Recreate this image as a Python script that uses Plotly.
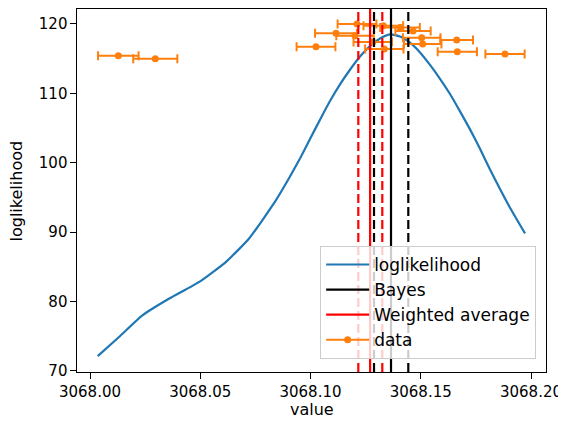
import plotly.graph_objects as go

# ---- data ----
curve_x = [3068.00349, 3068.01329, 3068.02390, 3068.03596, 3068.04957, 3068.06168,
           3068.07224, 3068.08435, 3068.09070, 3068.09524, 3068.09977, 3068.10431,
           3068.10884, 3068.11338, 3068.11791, 3068.12245, 3068.12698, 3068.13152,
           3068.13605, 3068.14059, 3068.14512, 3068.14966, 3068.15420, 3068.15873,
           3068.16327, 3068.16780, 3068.17234, 3068.17687, 3068.18141, 3068.18594,
           3068.19048, 3068.19728]
curve_y = [72.1, 74.9, 78.0, 80.4, 82.8, 85.7,
           89.1, 94.6, 98.0, 100.6, 103.4, 106.2,
           108.9, 111.3, 113.4, 115.3, 116.8, 117.9,
           118.5, 118.2, 117.3, 115.9, 114.1, 112.1,
           109.9, 107.4, 104.8, 102.0, 99.0, 96.2,
           93.5, 89.8]

data_x = [3068.01284, 3068.02961, 3068.10249, 3068.11156, 3068.12109, 3068.12020,
          3068.12821, 3068.13302, 3068.13347, 3068.14059, 3068.14649, 3068.15043,
          3068.15088, 3068.16630, 3068.16658, 3068.18821]
data_y = [115.43, 115.0, 116.7, 118.65, 120.0, 118.3,
          117.4, 119.75, 116.4, 119.5, 119.0, 118.0,
          117.1, 117.7, 116.0, 115.67]
data_err = [0.0092, 0.0100, 0.0088, 0.0095, 0.0088, 0.0085,
            0.0087, 0.0090, 0.0087, 0.0090, 0.0080, 0.0085,
            0.0085, 0.0074, 0.0089, 0.0089]

bayes_mean = 3068.13651
bayes_bounds = [3068.12880, 3068.14435]
wavg_mean = 3068.12703
wavg_bounds = [3068.12168, 3068.13256]

xtick_vals = [3068.00, 3068.05, 3068.10, 3068.15, 3068.20]
xtick_text = ["3068.00", "3068.05", "3068.10", "3068.15", "3068.20"]
ytick_vals = [70, 80, 90, 100, 110, 120]
ytick_text = ["70", "80", "90", "100", "110", "120"]

BLUE = "#1f77b4"
ORANGE = "#ff7f0e"
FONT = "DejaVu Sans"
FS = 15

fig = go.Figure()
fig.add_trace(go.Scatter(x=curve_x, y=curve_y, mode="lines", name="loglikelihood",
                         line=dict(color=BLUE, width=2.2, shape="spline", smoothing=0.5)))
# legend proxies for the vertical lines
fig.add_trace(go.Scatter(x=[None], y=[None], mode="lines", name="Bayes",
                         line=dict(color="black", width=2.2)))
fig.add_trace(go.Scatter(x=[None], y=[None], mode="lines", name="Weighted average",
                         line=dict(color="red", width=2.2)))
fig.add_trace(go.Scatter(x=data_x, y=data_y, mode="markers", name="data", showlegend=False,
                         marker=dict(color=ORANGE, size=7),
                         error_x=dict(type="data", array=data_err, color=ORANGE,
                                      thickness=2, width=4.5)))
fig.add_trace(go.Scatter(x=[None], y=[None], mode="lines+markers", name="data",
                         line=dict(color=ORANGE, width=2), marker=dict(color=ORANGE, size=7)))

def vline(x, color, dash):
    fig.add_shape(type="line", xref="x", yref="y domain", x0=x, x1=x, y0=0, y1=1,
                  line=dict(color=color, width=2.2, dash=dash), layer="above")

vline(wavg_mean, "red", "solid")
for b in wavg_bounds:
    vline(b, "red", "9px,4px")
vline(bayes_mean, "black", "solid")
for b in bayes_bounds:
    vline(b, "black", "9px,4px")

axis_common = dict(showline=True, linecolor="black", linewidth=1.1, mirror=True,
                   ticks="outside", ticklen=5.5, tickwidth=1.1, tickcolor="black",
                   showgrid=False, zeroline=False, automargin=False,
                   tickfont=dict(family=FONT, size=FS, color="black"))

fig.update_xaxes(range=[3067.9941, 3068.2068], tickmode="array",
                 tickvals=xtick_vals, ticktext=xtick_text, **axis_common)
fig.update_yaxes(range=[69.81, 122.16], tickmode="array",
                 tickvals=ytick_vals, ticktext=ytick_text, **axis_common)

# axis titles
fig.add_annotation(text="value", xref="paper", yref="paper", x=0.5, y=-0.102,
                   xanchor="center", yanchor="middle", showarrow=False,
                   font=dict(family=FONT, size=16, color="black"))
fig.add_annotation(text="loglikelihood", xref="paper", yref="paper", x=-0.128, y=0.5,
                   xanchor="center", yanchor="middle", showarrow=False, textangle=-90,
                   font=dict(family=FONT, size=16, color="black"))

# the page body adds an 8px offset; size the figure so the page does not overflow
fig.update_layout(
    width=558, height=410,
    margin=dict(l=69, r=20, t=1, b=46),
    plot_bgcolor="white", paper_bgcolor="white",
    font=dict(family=FONT, size=16, color="black"),
    legend=dict(x=0.979, y=0.036, xanchor="right", yanchor="bottom",
                bgcolor="rgba(255,255,255,0.8)", bordercolor="#cccccc", borderwidth=1,
                font=dict(family=FONT, size=17, color="black"),
                tracegroupgap=0, itemwidth=43),
    showlegend=True,
)

fig.write_html("out.html")
